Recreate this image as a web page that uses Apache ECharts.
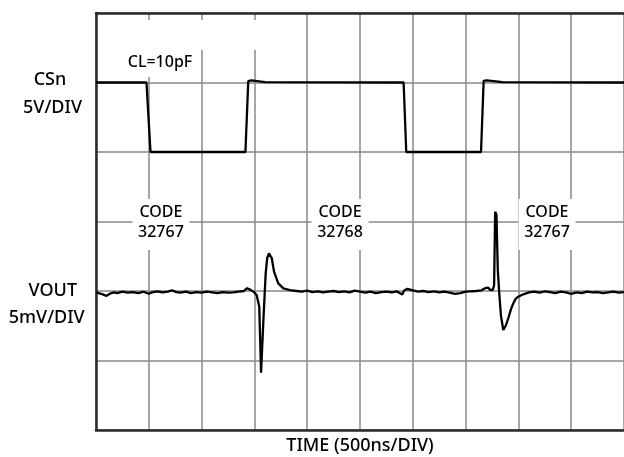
<!DOCTYPE html>
<html><head><meta charset="utf-8">
<script src="https://cdn.jsdelivr.net/npm/echarts@6/dist/echarts.min.js"></script>
<style>html,body{margin:0;padding:0;background:#fff}#c{width:624px;height:457px}</style>
</head><body><div id="c"></div>
<script>
// ---- data ----
const timeRangeNs = [0, 5000];          // 10 divisions x 500 ns
const timeStepNs = 500;
const csnRangeV = [-20, 10];            // 5 V/DIV, 6 divisions
const voutRangeMv = [-10, 20];          // 5 mV/DIV, 6 divisions

const csnTime  = [0, 478, 516, 1415, 1442, 1470, 1600, 2913, 2938, 3646, 3671, 3700, 3850, 5000];
const csnVolts = [5.0, 5.0, 0.0, 0.0, 5.1, 5.15, 5.03, 5.0, 0.0, 0.0, 5.12, 5.15, 5.02, 5.0];

const voutTime = [0, 50, 80, 100, 130, 170, 200, 250, 300, 350, 400, 450, 500, 530, 580, 630, 680, 720, 760, 800,
  850, 900, 950, 1000, 1050, 1100, 1150, 1200, 1250, 1300, 1350, 1400, 1430, 1460, 1500, 1522, 1546, 1563, 1584, 1607,
  1622, 1638, 1664, 1686, 1726, 1774, 1837, 1900, 1950, 2000, 2050, 2100, 2150, 2200, 2250, 2300, 2350, 2400, 2450, 2500,
  2550, 2600, 2650, 2700, 2750, 2800, 2850, 2900, 2920, 2950, 3000, 3050, 3100, 3150, 3200, 3250, 3300, 3350, 3400, 3450,
  3500, 3550, 3600, 3650, 3684, 3700, 3712, 3730, 3757, 3770, 3780, 3792, 3805, 3819, 3835, 3857, 3880, 3904, 3930, 3952,
  3975, 3999, 4046, 4100, 4150, 4200, 4250, 4300, 4350, 4400, 4450, 4500, 4550, 4600, 4650, 4700, 4750, 4800, 4850, 4900,
  4950, 5000];
const voutMv = [-0.1, -0.2, -0.3, -0.35, -0.2, -0.1, -0.15, -0.05, -0.12, -0.08, -0.15, -0.05, -0.2, -0.1, -0.02, -0.1, -0.05, 0.05, -0.08, -0.12,
  -0.05, -0.15, -0.08, -0.12, -0.05, -0.1, -0.15, -0.08, -0.12, -0.1, -0.05, 0.0, 0.2, 0.1, -0.1, -0.3, -1.13, -5.88, -2.3, 1.29,
  2.4, 2.71, 2.37, 1.39, 0.55, 0.19, 0.07, 0.0, -0.05, 0.02, -0.08, -0.02, -0.1, -0.05, 0.0, -0.08, -0.03, -0.1, 0.03, -0.05,
  -0.12, -0.05, -0.15, -0.08, -0.05, -0.1, -0.03, -0.25, 0.05, 0.15, 0.05, -0.05, 0.0, -0.08, -0.03, -0.1, -0.05, -0.12, -0.2, -0.15,
  -0.05, -0.02, 0.0, 0.05, 0.2, 0.1, 0.25, 0.1, 0.07, 0.4, 5.7, 5.5, 1.5, -0.2, -1.8, -2.81, -2.5, -1.96, -1.3, -0.88,
  -0.55, -0.41, -0.24, -0.1, -0.05, -0.12, -0.02, -0.08, -0.15, -0.05, -0.1, -0.2, -0.1, -0.15, -0.05, -0.1, -0.08, -0.15, -0.1, -0.05,
  -0.12, -0.08];

const axisTitleX = 'TIME (500ns/DIV)';
const channelLabels = ['CSn', '5V/DIV', 'VOUT', '5mV/DIV'];
const noteText = 'CL=10pF';
const codeTexts = ['CODE\n32767', 'CODE\n32768', 'CODE\n32767'];
// annotation anchors in data coordinates [ns, V on CSn axis]
const noteAnchor = [606, 6.47];
const codeAnchors = [[615, -5.1], [2311, -5.1], [4271, -5.1]];

const chart = echarts.init(document.getElementById('c'), null, {renderer: 'canvas'});
const font = '"Noto Sans", sans-serif';
const gridColor = '#888';
const frameColor = '#2a2a2a';
const textColor = '#000';

chart.setOption({
  animation: false,
  backgroundColor: '#fff',
  grid: {left: 96, top: 13, width: 528, height: 417, containLabel: false, outerBoundsMode: 'none'},
  xAxis: [{
    type: 'value', min: timeRangeNs[0], max: timeRangeNs[1], interval: timeStepNs,
    axisLine: {show: true, onZero: false, lineStyle: {color: frameColor, width: 2.5}},
    axisTick: {show: false}, axisLabel: {show: false},
    splitLine: {show: true, lineStyle: {color: gridColor, width: 1.5}}
  }, {
    type: 'value', position: 'top', min: timeRangeNs[0], max: timeRangeNs[1],
    axisLine: {show: true, onZero: false, lineStyle: {color: frameColor, width: 2.5}},
    axisTick: {show: false}, axisLabel: {show: false}, splitLine: {show: false}
  }],
  yAxis: [{
    type: 'value', min: csnRangeV[0], max: csnRangeV[1], interval: 5,
    axisLine: {show: true, onZero: false, lineStyle: {color: frameColor, width: 2.5}},
    axisTick: {show: false}, axisLabel: {show: false},
    splitLine: {show: true, lineStyle: {color: gridColor, width: 1.5}}
  }, {
    type: 'value', min: voutRangeMv[0], max: voutRangeMv[1], interval: 5, show: false,
    splitLine: {show: false}
  }],
  series: [{
    name: 'CSn', type: 'line', xAxisIndex: 0, yAxisIndex: 0, z: 5,
    showSymbol: false, symbol: 'none',
    lineStyle: {color: '#000', width: 2.3},
    data: csnTime.map((t, i) => [t, csnVolts[i]])
  }, {
    name: 'VOUT', type: 'line', xAxisIndex: 0, yAxisIndex: 1, z: 5,
    showSymbol: false, symbol: 'none',
    lineStyle: {color: '#000', width: 2.3},
    data: voutTime.map((t, i) => [t, voutMv[i]])
  }]
});

function px(p) { return chart.convertToPixel({xAxisIndex: 0, yAxisIndex: 0}, p); }
const els = [];
// white masks (as in the original print) behind the annotations
const topMaskA = px([38, 9.5]), topMaskB = px([1932, 7.34]);
els.push({type: 'rect', z: 1, shape: {x: topMaskA[0], y: topMaskA[1], width: topMaskB[0] - topMaskA[0], height: topMaskB[1] - topMaskA[1]}, style: {fill: '#fff'}});
const n = px(noteAnchor);
els.push({type: 'rect', z: 1, shape: {x: n[0] - 38, y: n[1] - 12, width: 76, height: 27}, style: {fill: '#fff'}});
els.push({type: 'text', z: 6, x: n[0], y: n[1], style: {text: noteText, font: '500 16px ' + font, fill: textColor, align: 'center', verticalAlign: 'middle'}});
codeAnchors.forEach((a, i) => {
  const p = px(a);
  els.push({type: 'rect', z: 1, shape: {x: p[0] - 28.5, y: p[1] - 24, width: 57, height: 51}, style: {fill: '#fff'}});
  els.push({type: 'text', z: 6, x: p[0], y: p[1], style: {text: codeTexts[i], font: '500 16px ' + font, lineHeight: 20, fill: textColor, align: 'center', verticalAlign: 'middle'}});
});
// x-axis title, centred under the plot
const xt = px([(timeRangeNs[0] + timeRangeNs[1]) / 2, csnRangeV[0]]);
els.push({type: 'text', z: 6, x: xt[0], y: xt[1] + 16, style: {text: axisTitleX, font: '500 18px ' + font, fill: textColor, align: 'center', verticalAlign: 'middle'}});
// channel labels at the left
const chanPos = [[50, 80], [52.5, 108], [52.8, 290.5], [46.7, 318]];
channelLabels.forEach((t, i) => {
  els.push({type: 'text', z: 6, x: chanPos[i][0], y: chanPos[i][1], style: {text: t, font: '500 18px ' + font, fill: textColor, align: 'center', verticalAlign: 'middle'}});
});
chart.setOption({graphic: {elements: els}});
</script></body></html>
